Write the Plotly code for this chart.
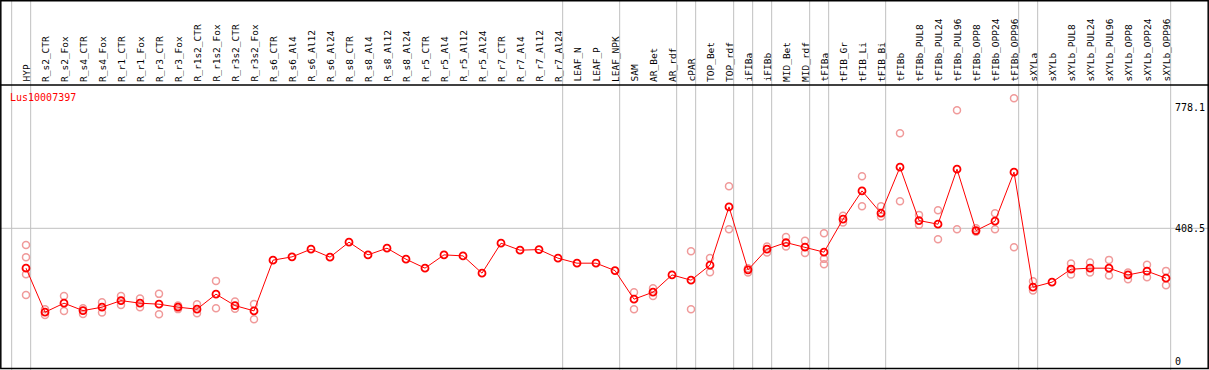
import plotly.graph_objects as go

categories = ["HYP", "R_s2_CTR", "R_s2_Fox", "R_s4_CTR", "R_s4_Fox", "R_r1_CTR", "R_r1_Fox",
              "R_r3_CTR", "R_r3_Fox", "R_r1s2_CTR", "R_r1s2_Fox", "R_r3s2_CTR", "R_r3s2_Fox",
              "R_s6_CTR", "R_s6_Al4", "R_s6_Al12", "R_s6_Al24", "R_s8_CTR", "R_s8_Al4", "R_s8_Al12",
              "R_s8_Al24", "R_r5_CTR", "R_r5_Al4", "R_r5_Al12", "R_r5_Al24", "R_r7_CTR", "R_r7_Al4",
              "R_r7_Al12", "R_r7_Al24", "LEAF_N", "LEAF_P", "LEAF_NPK", "SAM", "AR_Bet", "AR_rdf",
              "cPAR", "TOP_Bet", "TOP_rdf", "iFIBa", "iFIBb", "MID_Bet", "MID_rdf", "tFIBa",
              "tFIB_Gr", "tFIB_Li", "tFIB_Bi", "tFIBb", "tFIBb_PUL8", "tFIBb_PUL24", "tFIBb_PUL96",
              "tFIBb_OPP8", "tFIBb_OPP24", "tFIBb_OPP96", "sXYLa", "sXYLb", "sXYLb_PUL8",
              "sXYLb_PUL24", "sXYLb_PUL96", "sXYLb_OPP8", "sXYLb_OPP24", "sXYLb_OPP96"]

means = [286.4, 151.6, 179.2, 156.5, 166.9, 187.1, 179.2, 176.1, 166.9, 160.8, 206.7, 171.8, 155.6,
         310.9, 321.0, 344.6, 320.1, 366.0, 327.1, 347.6, 313.9, 286.4, 327.1, 324.0, 271.1,
         362.9, 341.5, 343.3, 317.0, 301.7, 301.7, 279.0, 191.4, 212.9, 265.8, 249.6, 295.6,
         474.1, 281.2, 344.6, 364.8, 350.7, 335.4, 436.4, 523.1, 454.8, 595.7, 432.2, 421.1,
         589.6, 401.5, 430.3, 580.4, 228.2, 243.5, 283.3, 286.4, 286.4, 265.8, 277.2, 255.7]

replicates = [
    [357.7, 320.1, 268.0, 204.6], [160.8, 143.3], [201.5, 155.6], [163.9, 146.4], [182.2, 150.4],
    [201.5, 174.0], [193.3, 166.9], [207.7, 145.5], [172.0, 161.0], [176.1, 148.5],
    [247.5, 163.9], [184.0, 162.0], [177.0, 130.2],
    [], [], [], [], [], [], [], [], [], [], [], [], [], [], [], [], [], [], [],
    [212.9, 160.8], [225.1, 201.5], [], [338.4, 160.8], [317.9, 274.1], [537.5, 405.8],
    [286.4, 272.9], [352.5, 334.2], [382.2, 352.5], [370.0, 333.2], [393.6, 314.9, 298.6],
    [446.6, 426.6], [568.1, 476.3], [476.3, 444.4], [699.8, 491.6], [449.6, 419.0],
    [464.0, 375.2], [770.3, 405.8], [408.9, 398.0], [454.8, 405.8], [807.0, 350.7],
    [246.6, 217.8], [], [300.5, 266.8], [303.5, 272.9], [311.8, 263.7], [272.9, 252.7],
    [296.5, 258.8], [278.1, 234.3],
]

separators_after = [-1, 0, 28, 31, 34, 35, 37, 38, 39, 41, 42, 45, 52, 53, 60]

y_ticks = [0, 408.5, 778.1]
y_ticktext = ["0", "408.5", "778.1"]
gene = "Lus10007397"

W, H = 1209, 370
x0_px, step_px = 26.0, 19.0
y0_px, scale = 361.7, 0.32656
top_px = 85.0

idx = list(range(len(categories)))
x_range = [(0 - x0_px) / step_px, (W - x0_px) / step_px]
y_range = [(y0_px - H) / scale, (y0_px - top_px) / scale]

rep_x, rep_y = [], []
for i, reps in enumerate(replicates):
    for v in reps:
        rep_x.append(i)
        rep_y.append(v)

fig = go.Figure()
fig.add_trace(go.Scatter(x=rep_x, y=rep_y, mode="markers",
                         marker=dict(symbol="circle-open", size=7, color="#f09a9a",
                                     line=dict(width=1.5, color="#f09a9a")),
                         hoverinfo="y", showlegend=False))
fig.add_trace(go.Scatter(x=idx, y=means, mode="lines+markers",
                         line=dict(color="#ff0000", width=1),
                         marker=dict(symbol="circle-open", size=7, color="#ff0000",
                                     line=dict(width=1.8, color="#ff0000")),
                         hoverinfo="y", showlegend=False))

shapes = []
for s in separators_after:
    shapes.append(dict(type="line", xref="x", yref="paper", x0=s + 0.245, x1=s + 0.245,
                       y0=0, y1=1, line=dict(color="#c0c0c0", width=1), layer="below"))
shapes.append(dict(type="line", xref="paper", yref="y", x0=0, x1=1, y0=y_ticks[1], y1=y_ticks[1],
                   line=dict(color="#c0c0c0", width=1), layer="below"))
# frame
shapes.append(dict(type="rect", xref="paper", yref="paper", x0=0.8 / W, x1=(W - 0.8) / W,
                   y0=(H - 368.5) / H, y1=(H - 0.8) / H, line=dict(color="black", width=1.5)))
shapes.append(dict(type="line", xref="paper", yref="paper", x0=0, x1=1,
                   y0=(H - top_px) / H, y1=(H - top_px) / H, line=dict(color="black", width=1.5)))

annotations = []
for i, c in enumerate(categories):
    annotations.append(dict(text=c, x=i, xref="x", y=(H - 83) / H, yref="paper",
                            textangle=-90, xanchor="center", yanchor="bottom", showarrow=False,
                            borderpad=0,
                            font=dict(family="DejaVu Sans Mono", size=9.5, color="black")))
annotations.append(dict(text=gene, xref="paper", yref="paper", x=8 / W, y=(H - 97.5) / H,
                        xanchor="left", yanchor="middle", showarrow=False,
                        font=dict(family="DejaVu Sans Mono", size=10, color="#ff0000")))

fig.update_layout(
    width=W, height=H, margin=dict(l=0, r=0, t=0, b=0),
    paper_bgcolor="white", plot_bgcolor="white",
    font=dict(family="DejaVu Sans Mono", size=10, color="black"),
    shapes=shapes, annotations=annotations,
    xaxis=dict(range=x_range, domain=[0, 1], showticklabels=False, ticks="", showgrid=False,
               zeroline=False, showline=False, anchor="y", fixedrange=True),
    yaxis=dict(range=y_range, domain=[0, (H - top_px) / H], anchor="free", position=1174 / W,
               side="right", tickmode="array", tickvals=y_ticks, ticktext=y_ticktext, ticks="",
               showgrid=False, zeroline=False, showline=False,
               tickfont=dict(family="DejaVu Sans Mono", size=10, color="black"), fixedrange=True),
)

fig.write_html("out.html", config={"displayModeBar": False},
               post_script="document.body.style.margin='0';")
